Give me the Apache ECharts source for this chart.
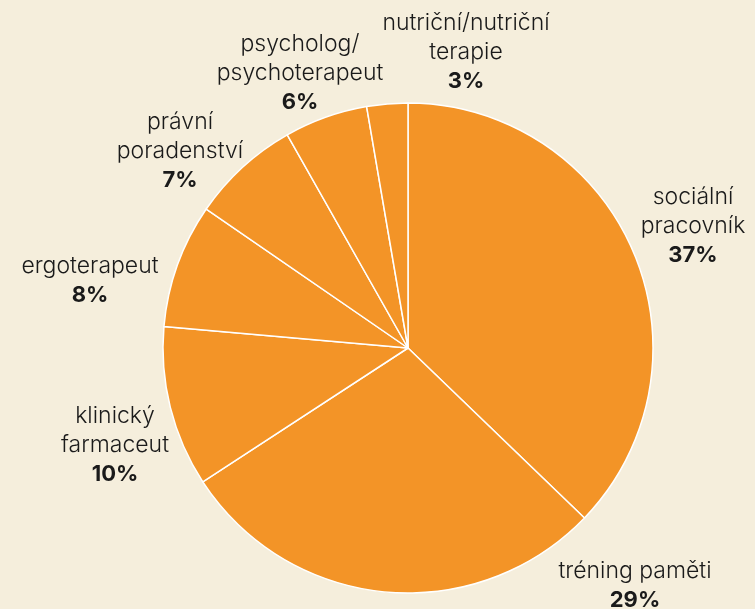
<!DOCTYPE html>
<html>
<head>
<meta charset="utf-8">
<script src="https://cdn.jsdelivr.net/npm/echarts@6/dist/echarts.min.js"></script>
<style>
html,body{margin:0;padding:0;background:#f5eedc;}
#c{width:755px;height:609px;}
</style>
</head>
<body>
<div id="c"></div>
<script>
const categories = ["sociální\npracovník", "tréning paměti", "klinický\nfarmaceut", "ergoterapeut", "právní\nporadenství", "psycholog/\npsychoterapeut", "nutriční/nutriční\nterapie"];
const values = [37.2, 28.6, 10.6, 8.2, 7.2, 5.5, 2.7];
const pctLabels = ["37%", "29%", "10%", "8%", "7%", "6%", "3%"];

// label anchor positions (layout only)
const labelPos = [[693, 226], [635, 586], [115, 445], [90, 281], [180, 151], [300, 73], [466, 52]];

const chart = echarts.init(document.getElementById('c'), null, {renderer: 'canvas'});
const fontFamily = "Inter, 'Open Sans', sans-serif";
chart.setOption({
  backgroundColor: '#f5eedc',
  animation: false,
  series: [{
    type: 'pie',
    center: [408, 348],
    radius: 245,
    startAngle: 90,
    clockwise: true,
    avoidLabelOverlap: false,
    itemStyle: { color: '#f39427', borderColor: '#ffffff', borderWidth: 1.5 },
    emphasis: { disabled: true },
    labelLine: { show: false },
    label: {
      show: true,
      position: 'outside',
      formatter: function (p) { return '{n|' + p.name + '}\n{v|' + pctLabels[p.dataIndex] + '}'; },
      rich: {
        n: { fontFamily: fontFamily, fontSize: 23, fontWeight: 300, color: '#1a1a1a', lineHeight: 29, align: 'center' },
        v: { fontFamily: fontFamily, fontSize: 22, fontWeight: 'bold', color: '#1a1a1a', lineHeight: 29, align: 'center' }
      }
    },
    labelLayout: function (params) {
      const p = labelPos[params.dataIndex];
      return { x: p[0], y: p[1], align: 'center', verticalAlign: 'middle' };
    },
    data: categories.map(function (c, i) { return { name: c, value: values[i] }; })
  }]
});
</script>
</body>
</html>
